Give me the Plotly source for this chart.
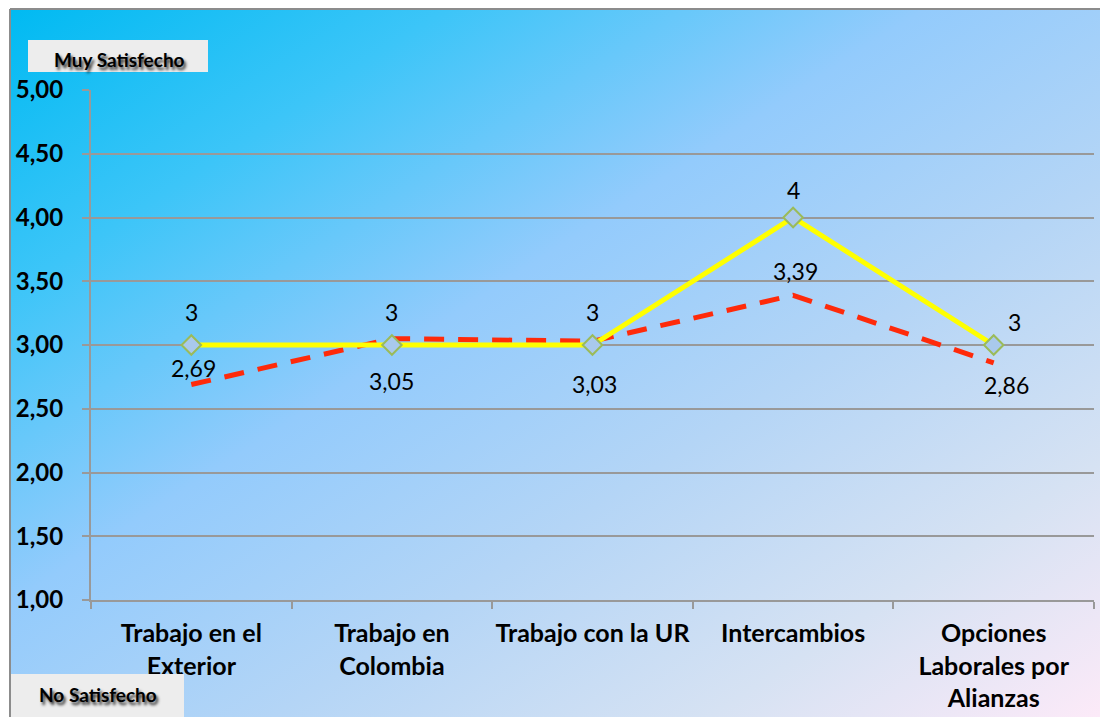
import base64
import plotly.graph_objects as go

# Survey categories and the two series of average scores
categories = [
    "Trabajo en el<br>Exterior",
    "Trabajo en<br>Colombia",
    "Trabajo con la UR",
    "Intercambios",
    "Opciones<br>Laborales por<br>Alianzas",
]
serie_amarilla = [3, 3, 3, 4, 3]
serie_roja = [2.69, 3.05, 3.03, 3.39, 2.86]

y_ticks = [1.0, 1.5, 2.0, 2.5, 3.0, 3.5, 4.0, 4.5, 5.0]

# pixel offsets of the value labels around each point
off_amarilla = [(0, 33), (0, 33), (0, 33), (0, 28), (21, 23)]
off_roja = [(2, 17), (0, -42), (2, -43), (2, 24), (13, -22)]

FONT = "Lato, 'Noto Sans', sans-serif"

W, H = 1100, 717
ML, MR, MT, MB = 91, 6, 90, 117
PW, PH = W - ML - MR, H - MT - MB


def px_x(p):
    return (p - ML) / PW


def px_y(p):
    return (H - MB - p) / PH


def fmt(v):
    if float(v).is_integer():
        return str(int(v))
    return f"{v:.2f}".replace(".", ",")


svg = """<svg xmlns='http://www.w3.org/2000/svg' width='1090' height='708' preserveAspectRatio='none'>
<defs><linearGradient id='g' x1='0' y1='0' x2='1' y2='1'>
<stop offset='0' stop-color='#00BAF2'/>
<stop offset='0.2' stop-color='#3CC5F8'/>
<stop offset='0.42' stop-color='#93CBFC'/>
<stop offset='0.62' stop-color='#B4D5F6'/>
<stop offset='0.82' stop-color='#D6E2F3'/>
<stop offset='1' stop-color='#FCEAF8'/>
</linearGradient></defs>
<rect width='1090' height='708' fill='url(#g)'/>
</svg>"""
bg_src = "data:image/svg+xml;base64," + base64.b64encode(svg.encode()).decode()

fig = go.Figure()

fig.add_trace(go.Scatter(
    x=categories, y=serie_roja, mode="lines",
    line=dict(color="#FF2A0A", width=5, dash="20px,14px"),
    hoverinfo="skip", showlegend=False,
))
fig.add_trace(go.Scatter(
    x=categories, y=serie_amarilla, mode="lines+markers",
    line=dict(color="#FFFF00", width=5),
    marker=dict(symbol="diamond", size=15, color="#A9C9EC",
                line=dict(color="#9BBB59", width=2)),
    hoverinfo="skip", showlegend=False,
))

label_font = dict(family=FONT, size=23, color="black")
annotations = []
for i, v in enumerate(serie_amarilla):
    dx, dy = off_amarilla[i]
    annotations.append(dict(x=categories[i], y=v, text=fmt(v), showarrow=False,
                            xshift=dx, yshift=dy, font=label_font))
for i, v in enumerate(serie_roja):
    dx, dy = off_roja[i]
    annotations.append(dict(x=categories[i], y=v, text=fmt(v), showarrow=False,
                            xshift=dx, yshift=dy, font=label_font))

# corner captions
shadow_font = dict(family=FONT, size=19, color="#000000",
                   weight="bold", shadow="2px 3px 3px rgba(0,0,0,0.8)")
annotations.append(dict(xref="paper", yref="paper", x=px_x(119), y=px_y(59),
                        xanchor="center", yanchor="middle",
                        text="Muy Satisfecho", showarrow=False, font=shadow_font))
annotations.append(dict(xref="paper", yref="paper", x=px_x(98), y=px_y(694),
                        xanchor="center", yanchor="middle",
                        text="No Satisfecho", showarrow=False, font=shadow_font))

shapes = [
    dict(type="rect", xref="paper", yref="paper",
         x0=px_x(28), x1=px_x(208), y0=px_y(72), y1=px_y(40),
         fillcolor="#EDEDED", line=dict(width=0), layer="above"),
    dict(type="rect", xref="paper", yref="paper",
         x0=px_x(10), x1=px_x(184), y0=px_y(717), y1=px_y(674),
         fillcolor="#EDEDED", line=dict(width=0), layer="above"),
    # frame border
    dict(type="line", xref="paper", yref="paper",
         x0=px_x(10), x1=px_x(1102), y0=px_y(9), y1=px_y(9),
         line=dict(color="#8C8C8C", width=2)),
    dict(type="line", xref="paper", yref="paper",
         x0=px_x(10), x1=px_x(10), y0=px_y(9), y1=px_y(720),
         line=dict(color="#8C8C8C", width=2)),
]

fig.update_layout(
    width=W, height=H,
    margin=dict(l=ML, r=MR, t=MT, b=MB, pad=0, autoexpand=False),
    paper_bgcolor="white",
    plot_bgcolor="rgba(0,0,0,0)",
    separators=",.",
    images=[dict(source=bg_src, xref="paper", yref="paper",
                 x=px_x(10), y=px_y(9),
                 sizex=1090 / PW, sizey=708 / PH,
                 sizing="stretch", layer="below",
                 xanchor="left", yanchor="top")],
    shapes=shapes,
    annotations=annotations,
    xaxis=dict(
        type="category",
        range=[-0.5, 4.5],
        automargin=False, tickangle=0,
        showgrid=False, showline=True, linecolor="#999999", linewidth=2,
        ticks="outside", tickson="boundaries", ticklen=7,
        tickcolor="#999999", tickwidth=2,
        ticklabelstandoff=10,
        tickfont=dict(family=FONT, size=25, color="black", weight="bold"),
        zeroline=False,
    ),
    yaxis=dict(
        range=[1, 5], tickvals=y_ticks, tickformat=".2f",
        automargin=False,
        showgrid=True, gridcolor="#999999", gridwidth=2,
        showline=True, linecolor="#999999", linewidth=2,
        ticks="outside", ticklen=7, tickcolor="#999999", tickwidth=2,
        ticklabelstandoff=14,
        tickfont=dict(family=FONT, size=24, color="black", weight="bold"),
        zeroline=False,
    ),
)

fig.write_html("out.html")
